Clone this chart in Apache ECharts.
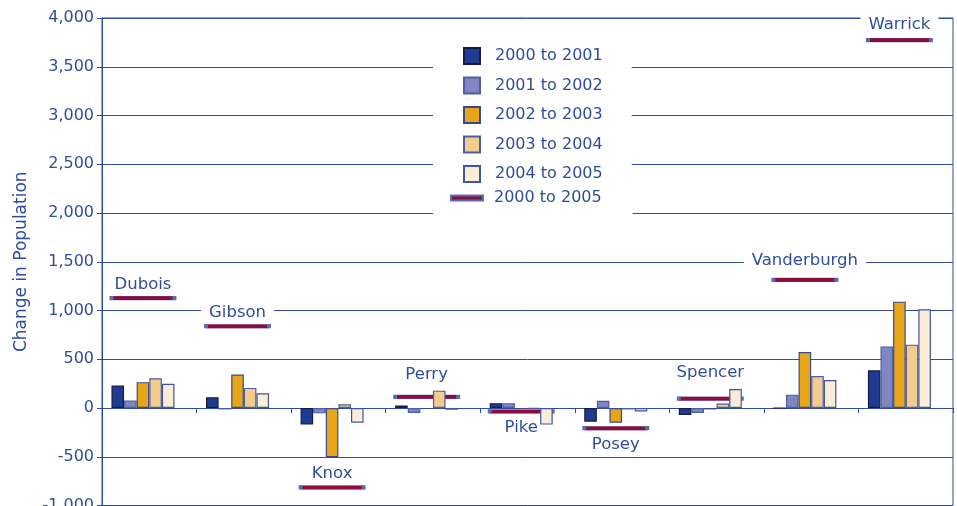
<!DOCTYPE html>
<html>
<head>
<meta charset="utf-8">
<script src="https://cdn.jsdelivr.net/npm/echarts@6/dist/echarts.min.js"></script>
<style>
    html, body { margin: 0; padding: 0; background: #fff; }
    #chart { width: 957px; height: 506px; }
</style>
</head>
<body>
<div id="chart"></div>
<script>
// counties along the x axis
var counties = ['Dubois', 'Gibson', 'Knox', 'Perry', 'Pike', 'Posey', 'Spencer', 'Vanderburgh', 'Warrick'];
var periods = ['2000 to 2001', '2001 to 2002', '2002 to 2003', '2003 to 2004', '2004 to 2005'];
var totalName = '2000 to 2005';

// yearly change in population
var y2000to2001 = [230, 110, -170, 25, 50, -140, -72, 0, 386];
var y2001to2002 = [78, -15, -55, -52, 50, 75, -50, 137, 632];
var y2002to2003 = [265, 343, -505, -10, -10, -150, -15, 575, 1091];
var y2003to2004 = [305, 206, 38, 178, -8, -15, 45, 328, 650];
var y2004to2005 = [248, 151, -150, -18, -170, -35, 195, 287, 1012];
// whole period change, drawn as a dash
var y2000to2005 = [1127, 839, -815, 114, -35, -207, 95, 1314, 3774];

var dom = document.getElementById('chart');
var myChart = echarts.init(dom);

var blue = '#2f4d9f';
var font = 'DejaVu Sans';

var barColors = ['#1d3c91', '#8087c0', '#e6a617', '#f2cc8a', '#fbecd5'];
var barBorders = ['#161c44', '#4d5ca8', '#3a4a92', '#4d5ca8', '#3d55a5'];
// vertical shift of each county name from its dash
var nameShift = [-13, -13, -14, -22, 16, 17, -26, -19, -15];

var barData = [y2000to2001, y2001to2002, y2002to2003, y2003to2004, y2004to2005];
var series = barData.map(function (d, i) {
    return {
        name: periods[i],
        type: 'bar',
        z: 3,
        barGap: '0%',
        barCategoryGap: '20%',
        silent: true,
        itemStyle: {
            color: barColors[i],
            borderColor: barBorders[i],
            borderWidth: 1.2
        },
        data: d
    };
});
// empty sixth slot so the group sits left of centre like the original
series.push({
    name: 'slot',
    type: 'bar',
    silent: true,
    data: []
});
series.push({
    name: totalName,
    type: 'scatter',
    z: 2,
    silent: true,
    symbol: 'rect',
    symbolSize: [63, 4],
    symbolOffset: [-6.3, 0],
    itemStyle: {
        color: '#8c0d3d',
        borderColor: '#5c6cb4',
        borderWidth: 1,
        opacity: 1
    },
    label: {
        show: true,
        position: 'inside',
        formatter: '{b}',
        color: blue,
        fontSize: 16.5,
        fontFamily: font,
        backgroundColor: '#fff',
        padding: [2, 8]
    },
    data: y2000to2005.map(function (v, i) {
        return { value: v, label: { offset: [0, nameShift[i]] } };
    })
});

var option = {
    animation: false,
    grid: {
        left: 102,
        right: 4,
        top: 18,
        bottom: 0.5,
        show: true,
        borderColor: blue,
        borderWidth: 1,
        outerBoundsMode: 'none'
    },
    legend: [{
        orient: 'vertical',
        left: 433,
        top: 34,
        padding: [13, 29, 4, 30],
        backgroundColor: '#fff',
        selectedMode: false,
        itemWidth: 16,
        itemHeight: 16,
        itemGap: 11.5,
        icon: 'rect',
        textStyle: { color: blue, fontSize: 16, fontFamily: font, padding: [0, 0, 0, 10] },
        data: periods
    }, {
        orient: 'vertical',
        left: 433,
        top: 186,
        padding: [4, 31, 10, 17],
        backgroundColor: '#fff',
        selectedMode: false,
        itemWidth: 32,
        itemHeight: 5,
        icon: 'rect',
        textStyle: { color: blue, fontSize: 16, fontFamily: font, padding: [0, 0, 0, 6] },
        data: [totalName]
    }],
    xAxis: {
        type: 'category',
        data: counties,
        axisLine: { onZero: true, lineStyle: { color: blue, width: 1 } },
        axisTick: { show: true, length: 5, lineStyle: { color: blue } },
        axisLabel: { show: false },
        splitLine: { show: false }
    },
    yAxis: {
        type: 'value',
        min: -1000,
        max: 4000,
        interval: 500,
        name: 'Change in Population',
        nameLocation: 'middle',
        nameGap: 72,
        nameMoveOverlap: false,
        nameTextStyle: { color: blue, fontSize: 17, fontFamily: font },
        axisLine: { show: true, lineStyle: { color: blue, width: 1 } },
        axisTick: { show: true, length: 5, lineStyle: { color: blue } },
        axisLabel: { color: blue, fontSize: 16, fontFamily: font, margin: 8 },
        splitLine: { show: true, lineStyle: { color: blue, width: 1 } }
    },
    series: series
};
myChart.setOption(option);
</script>
</body>
</html>
